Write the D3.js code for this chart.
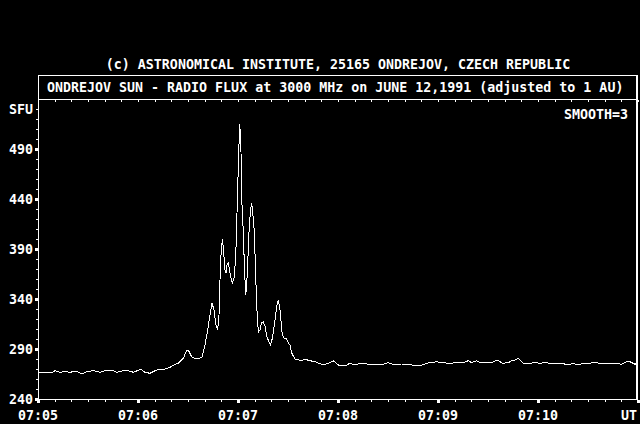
<!DOCTYPE html>
<html>
<head>
<meta charset="utf-8">
<script src="https://cdn.jsdelivr.net/npm/d3@7/dist/d3.min.js"></script>
<style>
  html, body { margin: 0; padding: 0; background: #000; }
  svg { display: block; }
  text { font-family: "DejaVu Sans Mono", "Liberation Mono", monospace; font-size: 13.3px; font-weight: bold; fill: #fff; }
</style>
</head>
<body>
<svg id="chart" width="640" height="424"></svg>
<script>
// ---- data (seconds after 07:05:00 UT, solar flux units) ----
const seconds = [0,4.2,8.2,10.2,13.2,16.2,19.2,23.2,26.2,29.2,33.2,37.2,41.2,44.2,47.2,51.2,54.2,57.2,61.6,64.2,67.2,70.2,73.2,76.2,79.2,82.2,84.2,87.2,89.2,90.2,92.2,94.2,97.2,98.4,100.2,102,103.2,104.4,105.6,106.8,107.8,108.6,109.2,109.8,110.6,111.3,112.2,112.8,113.4,114.2,114.9,115.8,116.6,117.6,118.6,119.2,119.7,120.2,121,121.5,121.8,122.2,123.2,123.8,124.6,125.2,125.8,126.6,127.5,128.2,128.7,129.8,130.6,131.2,132.2,133.2,134.1,135.2,136.2,137.4,139.4,140.7,142.2,143.4,144.2,145.2,146.6,147.6,149.2,150.3,151.2,152.2,154.2,158.2,160.2,163.2,166.2,171.2,174.2,177.2,180.2,185.2,187.2,190.2,193.2,197.2,205.2,210.2,213.2,218.2,223.2,225.6,230.2,233.2,239.2,242.2,247.2,251.2,255.2,258.2,260.2,263.2,265.2,272.2,275.6,278.8,282.2,284.8,286.2,288.2,291.2,295.2,298.2,301.2,304.2,307.2,310.2,314.2,318.2,321.2,324.2,327.2,330.2,333.2,339.2,347.2,350.2,353.2,355.2,358.2,360];
const flux = [266.3,266.5,266.3,268.3,266.7,267.3,266.7,268,265,267.3,268.3,266.7,269,269,266.7,268.3,268.3,266.7,269.7,266.7,265.7,268.3,270,270,271.7,274.7,275.7,280.7,289,289,282.3,280.7,281,282,294,311,324,336,329,314,309,324,359,384,400,389,369,366,374,376,369,361,356,361,381,414,444,474,515,504,487,441,407,374,344,354,374,407,429,436,429,407,364,334,307,309,316,317,313,302,294,301,319,334,339,329,304,301,300,296,294,286,280,278.3,279.7,278.3,277.3,274,275.7,278.3,274,274,275.7,274,275.7,275,274,276.3,274.7,275,275,273.3,274,275.7,277.3,276.3,275.7,276.3,276.3,278.3,276.3,278.3,276.3,276.3,279,275.7,276.3,279,279,280.7,275.7,275.7,276.3,275.7,276.3,275.7,275,275.7,274,275.7,274,275.7,275.7,276.3,275.7,275.7,274.7,277.3,277.3,274.7,276.3];
const yTickLabels = [240, 290, 340, 390, 440, 490];
const xTickLabels = ["07:05", "07:06", "07:07", "07:08", "07:09", "07:10", "UT"];
const copyrightText = "(c) ASTRONOMICAL INSTITUTE, 25165 ONDREJOV, CZECH REPUBLIC";
const titleText = "ONDREJOV SUN - RADIO FLUX at 3000 MHz on JUNE 12,1991 (adjusted to 1 AU)";
const yUnit = "SFU";
const smoothText = "SMOOTH=3";

const base = Date.UTC(1991, 5, 12, 7, 5, 0);
const data = seconds.map((s, i) => ({ t: new Date(base + s * 1000), v: flux[i] }));

const svg = d3.select("#chart");
const L = 38, R = 638, T = 99, B = 399;

const x = d3.scaleUtc()
  .domain([new Date(base), new Date(base + 6 * 60000)])
  .range([L, R]);
const y = d3.scaleLinear().domain([240, 540]).range([B, T]);

svg.append("rect").attr("width", 640).attr("height", 424).attr("fill", "#000");

// header texts
svg.append("text").attr("x", 338).attr("y", 69).attr("text-anchor", "middle").text(copyrightText);
svg.append("rect").attr("x", L + 0.5).attr("y", 75.5).attr("width", 598).attr("height", 24)
  .attr("fill", "none").attr("stroke", "#fff").attr("stroke-width", 1).attr("shape-rendering", "crispEdges");
svg.append("text").attr("x", 47).attr("y", 92).text(titleText);

// frame
const crisp = g => g.attr("shape-rendering", "crispEdges");
svg.append("line").attr("x1", L + 0.5).attr("x2", L + 0.5).attr("y1", T).attr("y2", B + 1).attr("stroke", "#fff").call(crisp);
svg.append("line").attr("x1", L).attr("x2", R).attr("y1", B + 0.5).attr("y2", B + 0.5).attr("stroke", "#fff").call(crisp);
svg.append("line").attr("x1", L).attr("x2", R).attr("y1", T + 0.5).attr("y2", T + 0.5).attr("stroke", "#fff").call(crisp);
svg.append("rect").attr("x", 636).attr("y", 75).attr("width", 2).attr("height", B - 75 + 1).attr("fill", "#fff");

// x ticks
const xMinor = d3.utcSecond.every(10).range(x.domain()[0], new Date(base + 6 * 60000 + 1));
const xMajor = d3.utcMinute.every(1).range(x.domain()[0], new Date(base + 6 * 60000 + 1));
svg.append("g").selectAll("rect").data(xMinor).join("rect")
  .attr("x", d => Math.round(x(d))).attr("y", B + 1).attr("width", 1).attr("height", 2).attr("fill", "#fff");
svg.append("g").selectAll("rect").data(xMinor).join("rect")
  .attr("x", d => Math.round(x(d))).attr("y", T + 1).attr("width", 1).attr("height", 2).attr("fill", "#fff");
svg.append("g").selectAll("rect").data(xMajor).join("rect")
  .attr("x", d => Math.round(x(d)) - 1).attr("y", B + 1).attr("width", 3).attr("height", 3).attr("fill", "#fff");
svg.append("g").selectAll("text").data(xMajor).join("text")
  .attr("x", (d, i) => i === xMajor.length - 1 ? R - 1 : x(d))
  .attr("y", 420)
  .attr("text-anchor", (d, i) => i === xMajor.length - 1 ? "end" : "middle")
  .text((d, i) => xTickLabels[i]);

// y ticks
const yMinor = d3.range(250, 540, 10);
svg.append("g").selectAll("rect").data(yMinor).join("rect")
  .attr("x", L - 2).attr("y", d => Math.round(y(d))).attr("width", 2).attr("height", 1).attr("fill", "#fff");
svg.append("g").selectAll("rect").data(yTickLabels).join("rect")
  .attr("x", L - 3).attr("y", d => Math.round(y(d)) - 1).attr("width", 3).attr("height", 3).attr("fill", "#fff");
svg.append("g").selectAll("text").data(yTickLabels).join("text")
  .attr("x", 33).attr("y", d => y(d) + 5).attr("text-anchor", "end").text(d => d);
svg.append("text").attr("x", 33).attr("y", 114).attr("text-anchor", "end").text(yUnit);
svg.append("text").attr("x", 564).attr("y", 119).text(smoothText);

// flux line
const line = d3.line().x(d => x(d.t)).y(d => y(d.v));
svg.append("path").datum(data).attr("d", line)
  .attr("fill", "none").attr("stroke", "#fff").attr("stroke-width", 1).attr("shape-rendering", "crispEdges");
</script>
</body>
</html>
